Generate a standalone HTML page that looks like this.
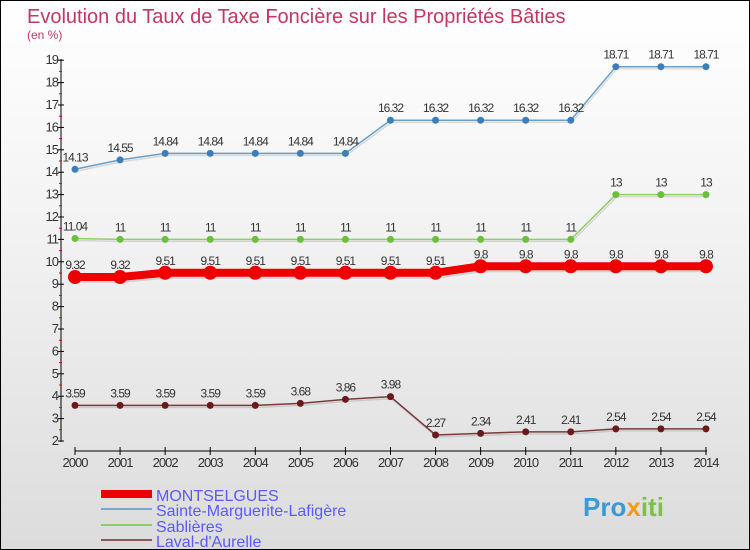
<!DOCTYPE html>
<html><head><meta charset="utf-8"><style>
body{margin:0}
#c{position:relative;width:748px;height:548px;border:1px solid #000;background:linear-gradient(#fff,#f3f3f3 40%,#dcdcdc);font-family:"Liberation Sans",sans-serif;overflow:hidden}
</style></head><body>
<div id="c">
<svg id="s" width="748" height="548" xmlns="http://www.w3.org/2000/svg">
<text x="26" y="22" font-size="20" fill="#c2385f">Evolution du Taux de Taxe Foncière sur les Propriétés Bâties</text>
<text x="26" y="38" font-size="12" fill="#c2385f">(en %)</text>
<g id="axes"></g><g id="series"></g>
<g>
<rect x="100" y="489" width="51" height="8" fill="#e00"/>
<text x="155" y="500" font-size="16" fill="#5a5aff">MONTSELGUES</text>
<rect x="100" y="507" width="51" height="2" fill="#7aa8c8"/>
<text x="155" y="515" font-size="16" fill="#5a5aff">Sainte-Marguerite-Lafigère</text>
<rect x="100" y="523" width="51" height="2" fill="#8ecf6a"/>
<text x="155" y="531" font-size="16" fill="#5a5aff">Sablières</text>
<rect x="100" y="538" width="51" height="2" fill="#8a5a5a"/>
<text x="155" y="546" font-size="16" fill="#5a5aff">Laval-d'Aurelle</text>
</g>
<text x="582" y="515" font-size="26" font-weight="bold" fill="#3a9ad9">Pro<tspan fill="#f39c12">x</tspan><tspan fill="#7cc242">iti</tspan></text>
</svg>
</div>
<script>
const years=[2000,2001,2002,2003,2004,2005,2006,2007,2008,2009,2010,2011,2012,2013,2014];
const yTicks=[2,3,4,5,6,7,8,9,10,11,12,13,14,15,16,17,18,19];
const montselgues=[9.32,9.32,9.51,9.51,9.51,9.51,9.51,9.51,9.51,9.8,9.8,9.8,9.8,9.8,9.8];
const sainteMarguerite=[14.13,14.55,14.84,14.84,14.84,14.84,14.84,16.32,16.32,16.32,16.32,16.32,18.71,18.71,18.71];
const sablieres=[11.04,11,11,11,11,11,11,11,11,11,11,11,13,13,13];
const laval=[3.59,3.59,3.59,3.59,3.59,3.68,3.86,3.98,2.27,2.34,2.41,2.41,2.54,2.54,2.54];
const NS="http://www.w3.org/2000/svg";
const X=i=>74+i*45.07, Y=v=>440-(v-2)*22.4;
function mk(t,a,p){const e=document.createElementNS(NS,t);for(const k in a)e.setAttribute(k,a[k]);p.appendChild(e);return e;}
const ax=document.getElementById('axes');
let l=mk('line',{x1:60,y1:58,x2:60,y2:441,stroke:'#000'},ax);


yTicks.forEach(v=>{mk('line',{x1:57,x2:63,y1:Y(v),y2:Y(v),stroke:'#000'},ax);
 if(v<19)mk('line',{x1:58,x2:61,y1:Y(v+0.5),y2:Y(v+0.5),stroke:'#e00'},ax);
 const t=mk('text',{x:57,y:Y(v)+4,'font-size':13,'text-anchor':'end',fill:'#333','letter-spacing':'-1'},ax);t.textContent=v;
 
 });
l=mk('line',{x1:74,y1:450,x2:706,y2:450,stroke:'#000'},ax);


years.forEach((y,i)=>{mk('line',{x1:X(i),x2:X(i),y1:446,y2:454,stroke:'#000'},ax);
 const t=mk('text',{x:X(i),y:466,'font-size':13,'text-anchor':'middle',fill:'#333','letter-spacing':'-1'},ax);t.textContent=y;
 
 });
const sg=document.getElementById('series');
function draw(data,name,col,dot,w,r){
 const g=mk('g',{},sg);
 
 
 mk('polyline',{points:data.map((v,i)=>(X(i)+1)+','+(Y(v)+2)).join(' '),fill:'none',stroke:'rgba(0,0,0,0.12)','stroke-width':w},g);
 mk('polyline',{points:data.map((v,i)=>X(i)+','+Y(v)).join(' '),fill:'none',stroke:col,'stroke-width':w},g);
 data.forEach((v,i)=>{const c=mk('circle',{cx:X(i),cy:Y(v),r:r,fill:dot},g);
  
  
  const t=mk('text',{x:X(i),y:Y(v)-8,'font-size':12,'text-anchor':'middle',fill:'#333','letter-spacing':'-1'},g);t.textContent=v;
  
  });
}
draw(sainteMarguerite,'sainte-marguerite','#6a9ec8','#3c7fb8',1.5,3.5);
draw(sablieres,'sablieres','#8ecf6a','#6bbf3a',1.5,3.5);
draw(laval,'laval','#7a3a3a','#6a1a1a',1.5,3.5);
draw(montselgues,'montselgues','#e00','#e00',8,7);
</script>
</body></html>
